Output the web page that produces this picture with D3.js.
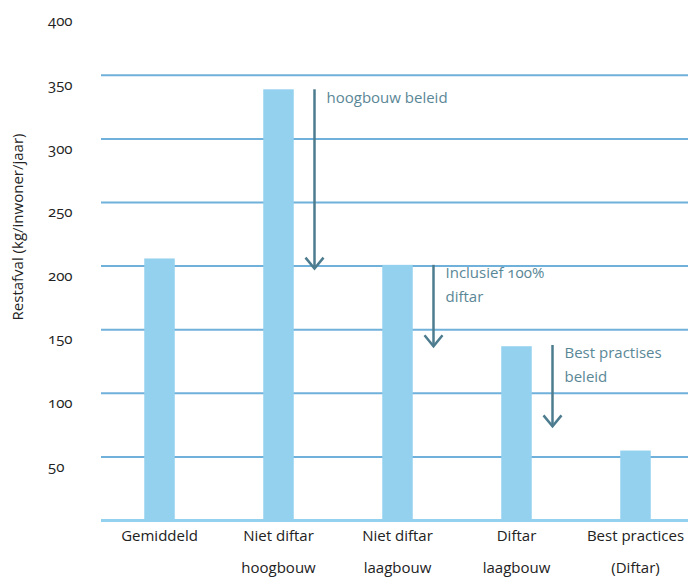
<!DOCTYPE html>
<html><head><meta charset="utf-8">
<script src="https://cdn.jsdelivr.net/npm/d3@7"></script>
<style>
body{margin:0;background:#fff;}
text{font-family:"Open Sans",Lato,sans-serif;font-feature-settings:"onum" 1;font-variant-numeric:oldstyle-nums;}
</style></head><body>
<svg id="c" width="691" height="577"></svg>
<script>
const categories = [["Gemiddeld"],["Niet diftar","hoogbouw"],["Niet diftar","laagbouw"],["Diftar","laagbouw"],["Best practices","(Diftar)"]];
const values = [206, 339, 201, 137, 55];
const yTicks = [50,100,150,200,250,300,350,400];
const arrows = [
  {cat:1, from:339, to:198, label:["hoogbouw beleid"]},
  {cat:2, from:201, to:137, label:["Inclusief 100%","diftar"]},
  {cat:3, from:138, to:74, label:["Best practises","beleid"]}
];
const yTitle = "Restafval (kg/inwoner/jaar)";

const svg = d3.select("#c");
const y = d3.scaleLinear().domain([0,400]).range([520.5, 11.7]);
const x = d3.scaleBand().domain(d3.range(categories.length)).range([100, 695]);
const barW = 30.5;

svg.append("g").selectAll("line").data(yTicks.filter(d=>d<400)).join("line")
  .attr("x1",101).attr("x2",688).attr("y1",d=>y(d)).attr("y2",d=>y(d))
  .attr("stroke","#6fb1db").attr("stroke-width",2);
svg.append("line").attr("x1",101).attr("x2",688).attr("y1",y(0)).attr("y2",y(0))
  .attr("stroke","#94d1ee").attr("stroke-width",3);

svg.append("g").selectAll("text").data(yTicks).join("text")
  .attr("x",48).attr("y",d=>y(d)+9.5).attr("dy","0.35em")
  .attr("font-size",15).attr("fill","#222").text(d=>d);

svg.append("g").selectAll("rect").data(values).join("rect")
  .attr("x",(d,i)=>x(i)+x.bandwidth()/2-barW/2).attr("width",barW)
  .attr("y",d=>y(d)).attr("height",d=>y(0)-y(d)).attr("fill","#94d1ee");

const cg = svg.append("g").selectAll("g").data(categories).join("g")
  .attr("transform",(d,i)=>`translate(${x(i)+x.bandwidth()/2},0)`);
cg.selectAll("text").data(d=>d).join("text")
  .attr("x",0).attr("y",(d,j)=>536+j*32).attr("dy","0.35em")
  .attr("text-anchor","middle").attr("font-size",15).attr("fill","#222").text(d=>d);

const ag = svg.append("g").selectAll("g").data(arrows).join("g")
  .attr("transform",d=>`translate(${x(d.cat)+x.bandwidth()/2+36},0)`);
ag.append("line").attr("x1",0).attr("x2",0).attr("y1",d=>y(d.from)).attr("y2",d=>y(d.to))
  .attr("stroke","#4d7c8f").attr("stroke-width",2.5);
ag.append("path").attr("d",d=>`M-9,${y(d.to)-11} L0,${y(d.to)} L9,${y(d.to)-11}`)
  .attr("fill","none").attr("stroke","#4d7c8f").attr("stroke-width",2.5);
ag.each(function(d){
  d3.select(this).selectAll("text.l").data(d.label).join("text").attr("class","l")
    .attr("x",12).attr("y",(t,j)=>y(d.from)+8+j*24).attr("dy","0.35em")
    .attr("font-size",15).attr("fill","#5a8796").text(t=>t);
});

svg.append("text").attr("transform","translate(18,227) rotate(-90)")
  .attr("text-anchor","middle").attr("dy","0.35em").attr("font-size",15).attr("fill","#222").text(yTitle);
</script></body></html>
